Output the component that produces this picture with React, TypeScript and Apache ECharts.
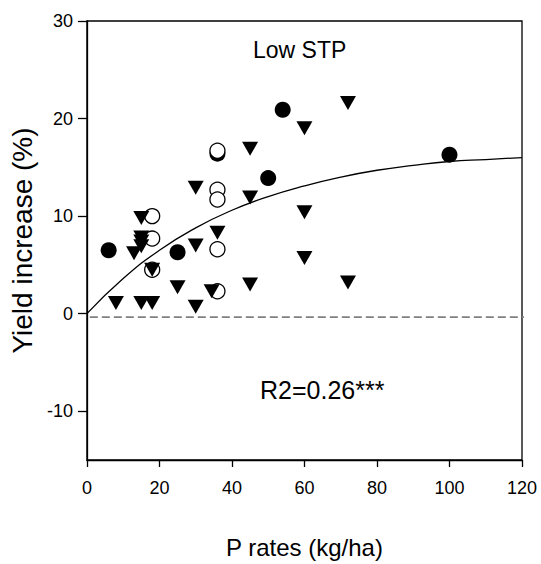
import React, { useEffect, useRef } from "react";
import * as echarts from "echarts";

const xTicks = [0, 20, 40, 60, 80, 100, 120];
const yTicks = [-10, 0, 10, 20, 30];

// Filled circles
const filledCircles: [number, number][] = [
  [6, 6.5], [25, 6.3], [36, 16.4], [50, 13.9], [54, 20.9], [100, 16.3],
];

// Open circles
const openCircles: [number, number][] = [
  [18, 10.0], [18, 7.7], [18, 4.5],
  [36, 16.7], [36, 12.7], [36, 11.7], [36, 6.6], [36, 2.3],
];

// Down triangles
const triangles: [number, number][] = [
  [8, 1.1], [15, 1.1], [18, 1.1],
  [13, 6.2], [15, 6.9], [15, 7.4], [15, 7.8], [15, 9.8],
  [18, 4.5], [25, 2.7],
  [30, 0.7], [30, 7.0], [30, 12.9],
  [34.4, 2.3], [36, 8.3],
  [45, 16.9], [45, 11.9], [45, 3.0],
  [60, 19.0], [60, 10.4], [60, 5.7],
  [72, 21.6], [72, 3.2],
];

// Fitted curve
const curve: [number, number][] = [
  [0, 0], [10, 3.6], [20, 6.5], [30, 8.8], [40, 10.6], [50, 12.0], [60, 13.1],
  [70, 14.0], [80, 14.7], [90, 15.2], [100, 15.6], [110, 15.8], [120, 16.0],
];

// Dashed reference line
const refLine: [number, number][] = [[0.8, -0.35], [121.2, -0.35]];

const FONT = "'Liberation Sans', Arial, sans-serif";

export default function App() {
  const ref = useRef<HTMLDivElement>(null);
  useEffect(() => {
    if (!ref.current) return;
    const chart = echarts.init(ref.current, null, { renderer: "svg" });
    chart.setOption({
      animation: false,
      backgroundColor: "#fff",
      textStyle: { fontFamily: FONT },
      grid: {
        left: 80, right: 19, top: 21, bottom: 102,
        show: true, borderColor: "#000", borderWidth: 1.3, backgroundColor: "transparent",
      },
      xAxis: {
        type: "value", min: 0, max: 120, interval: 20,
        name: "P rates (kg/ha)", nameLocation: "middle", nameGap: 75,
        nameTextStyle: { fontSize: 24, color: "#000", fontFamily: FONT },
        axisLine: { show: true, onZero: false, lineStyle: { color: "#000", width: 1.3 } },
        axisTick: { show: true, length: 7, inside: false, lineStyle: { color: "#000", width: 1.3 } },
        axisLabel: { margin: 19, fontSize: 18, color: "#000", fontFamily: FONT },
        splitLine: { show: false },
      },
      yAxis: {
        type: "value", min: -15, max: 30,
        name: "Yield increase (%)", nameLocation: "middle", nameGap: 50,
        nameTextStyle: { fontSize: 28, color: "#000", fontFamily: FONT },
        axisLine: { show: true, onZero: false, lineStyle: { color: "#000", width: 1.3 } },
        axisTick: { show: true, length: 9, customValues: yTicks, lineStyle: { color: "#000", width: 1.3 } },
        axisLabel: { margin: 14, fontSize: 18, color: "#000", fontFamily: FONT, customValues: yTicks },
        splitLine: { show: false },
      },
      graphic: [
        { type: "text", x: 253, y: 50, style: { text: "Low STP", font: `23px ${FONT}`, fill: "#000", textAlign: "left", textVerticalAlign: "middle" } },
        { type: "text", x: 260, y: 390, style: { text: "R2=0.26***", font: `25px ${FONT}`, fill: "#000", textAlign: "left", textVerticalAlign: "middle" } },
      ],
      series: [
        {
          type: "line", data: refLine, symbol: "none", clip: false, silent: true,
          lineStyle: { color: "#808080", width: 1.6, type: [8, 4] },
        },
        {
          type: "line", data: curve, symbol: "none", smooth: true, silent: true,
          lineStyle: { color: "#000", width: 1.3 },
        },
        {
          type: "scatter", data: filledCircles, symbol: "circle", symbolSize: 16,
          itemStyle: { color: "#000", opacity: 1 },
        },
        {
          type: "scatter", data: openCircles, symbol: "circle", symbolSize: 15,
          itemStyle: { color: "#fff", borderColor: "#000", borderWidth: 1.3, opacity: 1 },
        },
        {
          type: "scatter", data: triangles, symbol: "triangle", symbolSize: [16, 14], symbolRotate: 180,
          itemStyle: { color: "#000", opacity: 1 },
        },
      ],
    });
    return () => chart.dispose();
  }, []);
  return <div ref={ref} style={{ width: 541, height: 564, position: "absolute", left: 0, top: 0 }} />;
}
